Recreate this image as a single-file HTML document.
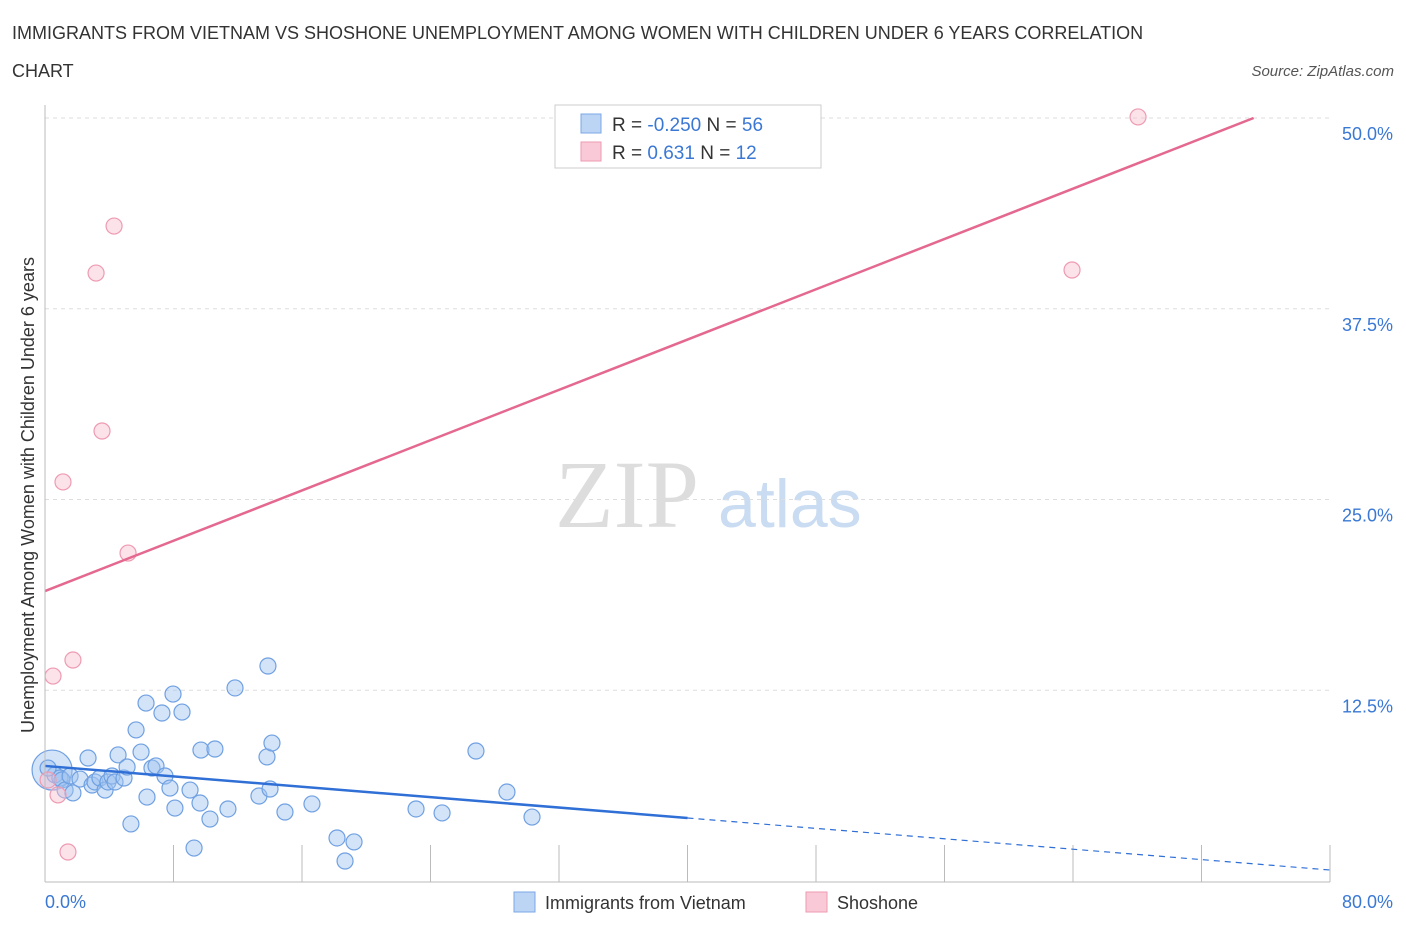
<!DOCTYPE html>
<html><head><meta charset="utf-8"><style>
body{margin:0;background:#fff;font-family:"Liberation Sans",sans-serif;}
#wrap{position:relative;width:1406px;height:930px;overflow:hidden;}
</style></head><body>
<div id="wrap">
<svg id="svg" width="1406" height="930" xmlns="http://www.w3.org/2000/svg">
<text x="12" y="39" font-size="18" fill="#333">IMMIGRANTS FROM VIETNAM VS SHOSHONE UNEMPLOYMENT AMONG WOMEN WITH CHILDREN UNDER 6 YEARS CORRELATION</text>
<text x="12" y="77" font-size="18" fill="#333">CHART</text>
<text x="1394" y="76" font-size="15" fill="#555" text-anchor="end" font-style="italic">Source: ZipAtlas.com</text>
<text x="0" y="0" transform="translate(34,495) rotate(-90)" font-size="18" fill="#333" text-anchor="middle">Unemployment Among Women with Children Under 6 years</text>
<text x="555" y="527" font-size="96" fill="#ddd" font-family="Liberation Serif,serif">ZIP</text>
<text x="718" y="527" font-size="68" fill="#c9dcf2">atlas</text>
<g id="grid"></g><g id="marks"></g>
<line x1="45" y1="105" x2="45" y2="882" stroke="#bbb"/>
<line x1="45" y1="882" x2="1330" y2="882" stroke="#bbb"/>
<text x="45" y="908" font-size="18" fill="#3a78d4">0.0%</text>
<text x="1393" y="908" font-size="18" fill="#3a78d4" text-anchor="end">80.0%</text>
<g>
<rect x="555" y="105" width="266" height="63" fill="#fff" stroke="#ccc"/>
<rect x="581" y="114" width="20" height="19" fill="#bcd5f5" stroke="#7aa8e6"/>
<rect x="581" y="142" width="20" height="19" fill="#f9c9d7" stroke="#ef9ab3"/>
<text x="612" y="131" font-size="19" fill="#333">R = <tspan fill="#3a78d4">-0.250</tspan>   N = <tspan fill="#3a78d4">56</tspan></text>
<text x="612" y="159" font-size="19" fill="#333">R = <tspan fill="#3a78d4">   0.631</tspan>   N = <tspan fill="#3a78d4"> 12</tspan></text>
</g>
<g>
<rect x="514" y="892" width="21" height="20" fill="#bcd5f5" stroke="#7aa8e6"/>
<text x="545" y="909" font-size="18" fill="#333">Immigrants from Vietnam</text>
<rect x="806" y="892" width="21" height="20" fill="#f9c9d7" stroke="#ef9ab3"/>
<text x="837" y="909" font-size="18" fill="#333">Shoshone</text>
</g>
</svg>
</div>
<script>
const yTicks=[12.5,25,37.5,50];
const yTickLabels=["12.5%","25.0%","37.5%","50.0%"];
const xTickVals=[0,8,16,24,32,40,48,56,64,72,80];
const blueX=[0.44,0.62,0.93,1.06,1.25,1.56,1.74,2.18,2.68,2.93,3.11,3.42,3.74,3.92,4.17,4.36,4.55,4.92,5.11,5.35,5.67,5.98,6.29,6.35,6.66,6.91,7.28,7.47,7.78,7.97,8.09,8.53,9.03,9.28,9.65,9.71,10.27,10.58,11.39,11.83,13.32,13.82,13.88,14.01,14.13,14.94,16.62,18.18,18.68,19.24,23.10,24.72,26.83,28.76,30.32,0.19];
const blueY=[7.27,6.95,6.75,6.62,5.96,6.88,5.77,6.68,8.06,6.29,6.49,6.75,5.96,6.49,6.88,6.49,8.26,6.75,7.47,3.74,9.90,8.45,11.66,5.50,7.40,7.54,11.01,6.88,6.09,12.25,4.78,11.07,5.96,2.16,5.11,8.58,4.06,8.65,4.72,12.65,5.57,8.13,14.09,6.03,9.04,4.52,5.05,2.82,1.31,2.56,4.72,4.46,8.52,5.83,4.19,7.40];
const pinkX=[0.19,0.50,0.81,1.12,1.43,1.74,3.18,3.55,4.30,5.17,63.94,68.05];
const pinkY=[6.62,13.43,5.64,26.15,1.90,14.48,39.84,29.49,42.92,21.49,40.04,50.07];
const blueTrend=[7.54,0.72]; // y at x=0 and x=80
const pinkTrend=[19.0,0.412]; // intercept, slope
const X=v=>45+v/80*1285, Y=v=>881-v/50*763;
const NS="http://www.w3.org/2000/svg";
function mk(t,a,p){const e=document.createElementNS(NS,t);for(const k in a)e.setAttribute(k,a[k]);p.appendChild(e);return e;}
const grid=document.getElementById('grid'),marks=document.getElementById('marks');
yTicks.forEach((v,i)=>{
const l=mk('line',{x1:45,x2:1330,y1:Y(v),y2:Y(v),stroke:'#ddd','stroke-dasharray':'4,4'},grid);


const t=mk('text',{x:1393,y:Y(v)+22,'font-size':18,fill:'#3a78d4','text-anchor':'end'},grid);
t.textContent=yTickLabels[i];


});
xTickVals.forEach(v=>{
const l=mk('line',{x1:X(v),x2:X(v),y1:845,y2:882,stroke:'#bbb'},grid);


});
blueX.forEach((x,i)=>{
const c=mk('circle',{cx:X(x),cy:Y(blueY[i]),r:i===0?20:8,fill:'rgba(160,196,240,0.45)',stroke:'#6fa0e2','stroke-width':1.2},marks);


});
pinkX.forEach((x,i)=>{
const c=mk('circle',{cx:X(x),cy:Y(pinkY[i]),r:8,fill:'rgba(248,190,206,0.45)',stroke:'#ee9ab2','stroke-width':1.2},marks);


});
const by=x=>blueTrend[0]+(blueTrend[1]-blueTrend[0])*x/80;
let l1=mk('line',{x1:X(0),y1:Y(by(0)),x2:X(40),y2:Y(by(40)),stroke:'#2f6fd6','stroke-width':2.5},marks);


let l2=mk('line',{x1:X(40),y1:Y(by(40)),x2:X(80),y2:Y(by(80)),stroke:'#2f6fd6','stroke-width':1.2,'stroke-dasharray':'6,5'},marks);


const pxEnd=(50-pinkTrend[0])/pinkTrend[1];
let l3=mk('line',{x1:X(0),y1:Y(pinkTrend[0]),x2:X(pxEnd),y2:Y(50),stroke:'#e4688f','stroke-width':2.5},marks);


</script>
</body></html>
